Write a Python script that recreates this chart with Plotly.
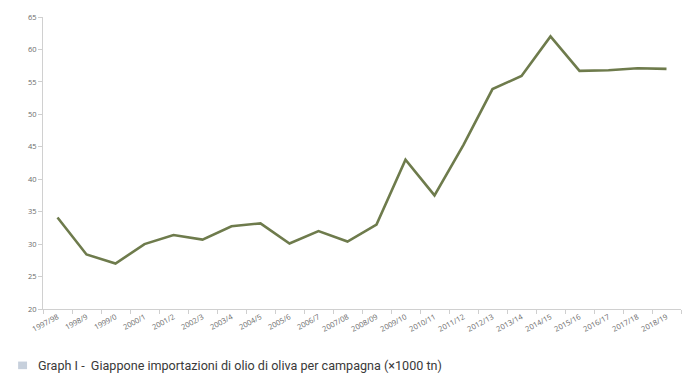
import plotly.graph_objects as go

campagne = ["1997/98", "1998/9", "1999/0", "2000/1", "2001/2", "2002/3", "2003/4",
            "2004/5", "2005/6", "2006/7", "2007/08", "2008/09", "2009/10", "2010/11",
            "2011/12", "2012/13", "2013/14", "2014/15", "2015/16", "2016/17",
            "2017/18", "2018/19"]
importazioni = [34.1, 28.4, 27.0, 30.0, 31.4, 30.7, 32.75, 33.2, 30.1, 32.0, 30.4,
                33.0, 43.0, 37.5, 45.3, 53.9, 55.9, 62.0, 56.7, 56.8, 57.1, 57.0]
y_ticks = [20, 25, 30, 35, 40, 45, 50, 55, 60, 65]
caption = "Graph I -  Giappone importazioni di olio di oliva per campagna (×1000 tn)"

fig = go.Figure()
fig.add_trace(go.Scatter(
    x=campagne, y=importazioni, mode="lines",
    line=dict(color="#6e7b4c", width=2.6),
    hoverinfo="x+y", showlegend=False,
))

axis_font = dict(family="Open Sans, sans-serif", size=7.5, color="#6a6a6a")
fig.update_layout(
    width=685, height=390,
    margin=dict(l=43, r=4, t=17, b=81),
    paper_bgcolor="white", plot_bgcolor="white",
    xaxis=dict(
        type="category", range=[-0.5, len(campagne) - 0.5],
        tickson="boundaries", ticks="outside", ticklen=4,
        tickcolor="#cfcfcf", showline=True, linecolor="#d0d0d0", linewidth=1,
        showgrid=False, tickangle=-28, tickfont=axis_font, zeroline=False,
    ),
    yaxis=dict(
        range=[20, 65], tickvals=y_ticks, ticks="outside", ticklen=4,
        tickcolor="#cfcfcf", showline=True, linecolor="#d0d0d0", linewidth=1,
        showgrid=False, tickfont=axis_font, zeroline=False,
    ),
    font=dict(family="Roboto, sans-serif"),
)

fig.add_shape(type="rect", xref="paper", yref="paper",
              x0=-0.039, x1=-0.025, y0=-0.206, y1=-0.18,
              fillcolor="#c7d0dc", line=dict(width=0))
fig.add_annotation(xref="paper", yref="paper", x=-0.011, y=-0.193,
                   xanchor="left", yanchor="middle", showarrow=False,
                   text=caption,
                   font=dict(family="Roboto, sans-serif", size=12.6, color="#3a3a3a"))

fig.write_html("out.html")
